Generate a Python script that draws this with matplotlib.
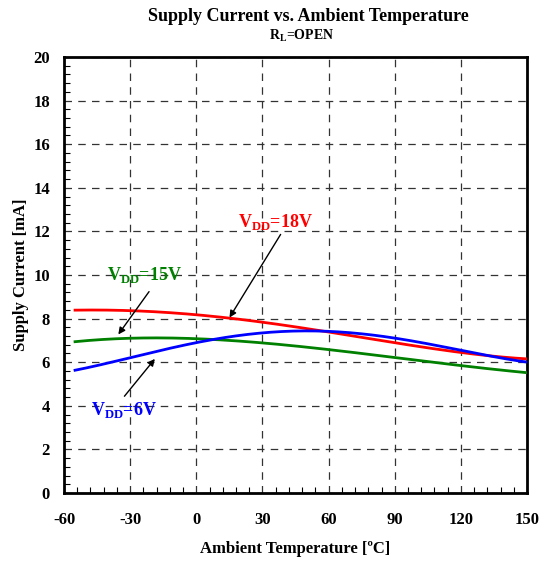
import numpy as np
import matplotlib
matplotlib.use("Agg")
import matplotlib.pyplot as plt
from matplotlib.ticker import MultipleLocator

# --- data (temperature in degC, current in mA) ---
temps = [-55, -30, 0, 30, 60, 90, 120, 150]
i_18v = [8.39, 8.36, 8.17, 7.86, 7.36, 6.90, 6.45, 6.15]
i_15v = [6.94, 7.10, 7.08, 6.88, 6.58, 6.22, 5.84, 5.52]
i_6v = [5.64, 6.18, 6.92, 7.35, 7.40, 7.10, 6.56, 6.00]

plt.rcParams["font.family"] = "serif"
plt.rcParams["font.serif"] = ["Liberation Serif", "DejaVu Serif"]
plt.rcParams["font.weight"] = "bold"
plt.rcParams["axes.unicode_minus"] = False
plt.rcParams["mathtext.fontset"] = "custom"
plt.rcParams["mathtext.rm"] = "Liberation Serif:bold"
plt.rcParams["mathtext.bf"] = "Liberation Serif:bold"


def smooth(x, y, n=200):
    # smooth curve through the read points (polynomial fit)
    c = np.polyfit(x, y, 4)
    xs = np.linspace(min(x), max(x), n)
    return xs, np.polyval(c, xs)


fig = plt.figure(figsize=(5.49, 5.63), dpi=100)
ax = fig.add_axes([0.1166, 0.1243, 0.8434, 0.7745])

for ys, col in ((i_18v, "#ff0000"), (i_15v, "#008000"), (i_6v, "#0000ff")):
    xs, yy = smooth(temps, ys)
    ax.plot(xs, yy, color=col, lw=2, zorder=3)

ax.set_xlim(-60, 150)
ax.set_ylim(0, 20)
ax.xaxis.set_major_locator(MultipleLocator(30))
ax.xaxis.set_minor_locator(MultipleLocator(6))
ax.yaxis.set_major_locator(MultipleLocator(2))
ax.yaxis.set_minor_locator(MultipleLocator(0.4))
ax.tick_params(which="both", direction="in", top=False, right=False)
ax.tick_params(which="major", length=0, labelsize=12)
ax.tick_params(axis="x", which="major", pad=14)
ax.tick_params(axis="y", which="major", pad=10)
ax.tick_params(which="minor", length=4, width=0.8)
for lab in ax.get_xticklabels() + ax.get_yticklabels():
    lab.set_fontweight("bold")
ax.grid(True, which="major", color="#333333", ls=(0, (6, 5)), lw=0.9)
for s in ax.spines.values():
    s.set_linewidth(2)

ax.set_xlabel("Ambient Temperature [ºC]", fontsize=12, fontweight="bold", labelpad=9)
ax.set_ylabel("Supply Current [mA]", fontsize=12, fontweight="bold", labelpad=3)
fig.text(0.562, 0.970, "Supply Current vs. Ambient Temperature",
         ha="center", va="center", fontsize=13, fontweight="bold")
fig.text(0.55, 0.936, r"R$_\mathbf{L}$=OPEN",
         ha="center", va="center", fontsize=10, fontweight="bold")

arr = dict(arrowstyle="-|>", color="black", lw=1, mutation_scale=10)
ax.annotate("", xy=(14.4, 7.94), xytext=(38.9, 11.97), arrowprops=arr)
ax.annotate("", xy=(-36.1, 7.17), xytext=(-20.7, 9.34), arrowprops=arr)
ax.annotate("", xy=(-18.0, 6.25), xytext=(-33.4, 4.34), arrowprops=arr)
ax.text(35.7, 12.43, r"V$_\mathbf{DD}$=18V", color="#ff0000", fontsize=13,
        fontweight="bold", ha="center", va="center")
ax.text(-23.3, 10.0, r"V$_\mathbf{DD}$=15V", color="#008000", fontsize=13,
        fontweight="bold", ha="center", va="center")
ax.text(-32.8, 3.8, r"V$_\mathbf{DD}$=6V", color="#0000ff", fontsize=13,
        fontweight="bold", ha="center", va="center")

fig.savefig("out.png", dpi=100)
